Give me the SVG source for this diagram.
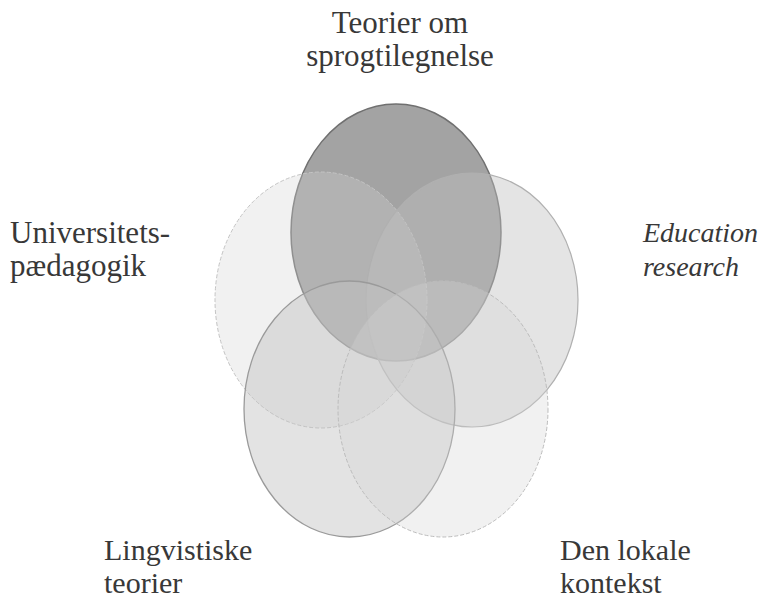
<svg xmlns="http://www.w3.org/2000/svg" width="764" height="600" viewBox="0 0 764 600">
  <style>
    .lbl { font-family: "Liberation Serif", "DejaVu Serif", serif; font-size: 31px; fill: #383838; }
    .sm { font-size: 30px; }
    .it { font-style: italic; font-size: 28px; }
    .dash { stroke-dasharray: 4 2; }
  </style>
  <rect width="764" height="600" fill="#ffffff"/>
  <g id="node-teorier">
    <ellipse cx="396" cy="232.5" rx="105" ry="128.5" fill="#a3a3a3" stroke="#707070" stroke-width="1.5"/>
  </g>
  <g id="node-universitet">
    <ellipse cx="321" cy="300" rx="106" ry="128" fill="#d2d2d2" fill-opacity="0.32" stroke="#c4c4c4" stroke-width="1" class="dash"/>
  </g>
  <g id="node-education">
    <ellipse cx="472" cy="300" rx="106" ry="127" fill="#c0c0c0" fill-opacity="0.43" stroke="#b0b0b0" stroke-width="1.2"/>
  </g>
  <g id="node-lingvistiske">
    <ellipse cx="349.5" cy="409" rx="105.5" ry="128" fill="#c0c0c0" fill-opacity="0.45" stroke="#9a9a9a" stroke-width="1.3"/>
  </g>
  <g id="node-lokale">
    <ellipse cx="443" cy="409" rx="105" ry="128" fill="#d6d6d6" fill-opacity="0.33" stroke="#bcbcbc" stroke-width="1" class="dash"/>
  </g>
  <g id="connectors"></g>
  <g id="labels">
    <text class="lbl" x="400" y="33" text-anchor="middle">Teorier om</text>
    <text class="lbl" x="400" y="66" text-anchor="middle">sprogtilegnelse</text>
    <text class="lbl" x="10" y="243">Universitets-</text>
    <text class="lbl" x="10" y="276">pædagogik</text>
    <text class="lbl it" x="643" y="242">Education</text>
    <text class="lbl it" x="643" y="276">research</text>
    <text class="lbl sm" x="104" y="560">Lingvistiske</text>
    <text class="lbl sm" x="104" y="593">teorier</text>
    <text class="lbl sm" x="560" y="560">Den lokale</text>
    <text class="lbl sm" x="560" y="593">kontekst</text>
  </g>
</svg>
